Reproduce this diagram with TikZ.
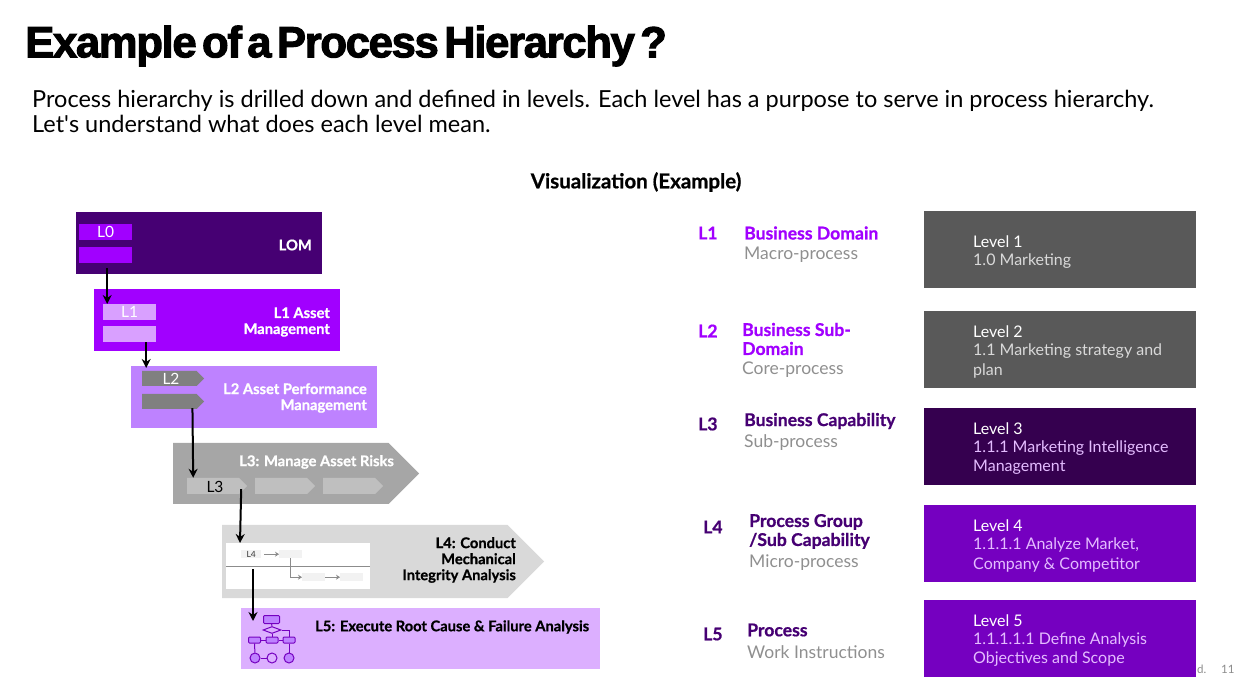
\documentclass[tikz,border=0pt]{standalone}
\usepackage{fontspec}
\setmainfont{Lato}
\newfontfamily\plainfont{Lato}
\newfontfamily\titlefont[LetterSpace=-3,FakeBold=2.5,WordSpace=0.5]{Liberation Sans Bold}
\newfontfamily\heavyfont[FakeBold=0.8]{Lato Bold}
\usetikzlibrary{arrows.meta,positioning,shapes.symbols,shapes.geometric}
\definecolor{lomdark}{HTML}{460073}
\definecolor{brightviolet}{HTML}{A100FF}
\definecolor{softviolet}{HTML}{BE82FF}
\definecolor{paleviolet}{HTML}{DCAFFF}
\definecolor{chipviolet}{HTML}{D9A0FF}
\definecolor{deepviolet}{HTML}{7500C0}
\definecolor{inkviolet}{HTML}{35004F}
\definecolor{slate}{HTML}{595959}
\definecolor{subgrey}{HTML}{8F8F8F}

\begin{document}
\begin{tikzpicture}[x=1pt, y=-1pt,
  band/.style={rectangle, inner sep=0pt, anchor=north west},
  chevron/.style={signal, signal to=east, signal pointer angle=90, inner sep=0pt, anchor=west},
  head/.style={font=\fontsize{14.7}{16}\selectfont\heavyfont, text=white, align=right, anchor=east, inner sep=0pt, yshift=-1pt},
  tag/.style={font=\fontsize{15.5}{16}\selectfont, text=white, inner sep=0pt},
  flow/.style={-{Stealth[length=9pt,width=9pt]}, line width=2pt, black},
  thin flow/.style={-{Stealth[length=4pt,width=5pt]}, line width=0.8pt, black!45},
  levelname/.style={font=\fontsize{17.6}{19}\selectfont\heavyfont, inner sep=0pt, anchor=west},
  levelinfo/.style={font=\fontsize{17.5}{19}\selectfont, align=left, inner sep=0pt, anchor=west, yshift=-2pt},
  paneltext/.style={font=\fontsize{16}{19.5}\selectfont, align=left, inner sep=0pt, anchor=west, yshift=-1pt},
  panel/.style={band, minimum width=272pt, minimum height=77pt},
  icon box/.style={rectangle, rounded corners=1pt, draw=deepviolet, fill=softviolet, line width=1pt, inner sep=0pt},
  icon dot/.style={circle, draw=deepviolet, fill=softviolet, line width=1pt, minimum size=10pt, inner sep=0pt},
  icon line/.style={draw=deepviolet, line width=1pt},
]
  \useasboundingbox (0,0) rectangle (1254,692);

  % heading
  \node[anchor=west, inner sep=0pt, font=\fontsize{43.6}{46}\selectfont\titlefont] (title) at (25,46) {Example of a Process Hierarchy ?};
  \node[anchor=north west, inner sep=0pt, align=left, font=\fontsize{23.5}{25}\selectfont] (intro) at (32,90)
    {Process hierarchy is drilled down and defined in levels. Each level has a purpose to serve in process hierarchy.\\
     Let{\plainfont'}s understand what does each level mean.};
  \node[inner sep=0pt, font=\fontsize{20.5}{20}\selectfont\heavyfont] (vis) at (636,182) {Visualization (Example)};

  % left stack
  \node[band, fill=lomdark, minimum width=246pt, minimum height=62pt] (lom) at (76,212) {};
  \node[band, fill=brightviolet, minimum width=53pt, minimum height=16pt] (lzero) at (79,224) {};
  \node[band, fill=brightviolet, minimum width=53pt, minimum height=16pt] (lzerob) at (79,247) {};
  \node[tag] (lzerot) at (lzero.center) {L0};
  \node[head, anchor=east] (lomt) at (312,244) {LOM};

  \node[band, fill=brightviolet, minimum width=246pt, minimum height=62pt] (asset) at (94,289) {};
  \node[band, fill=chipviolet, minimum width=53pt, minimum height=16pt] (lone) at (103,304) {};
  \node[band, fill=chipviolet, minimum width=53pt, minimum height=16pt] (loneb) at (103,326) {};
  \node[tag] (lonet) at (lone.center) {L1};
  \node[head] (assett) at (330,321) {L1 Asset\\Management};

  \node[band, fill=softviolet, minimum width=246pt, minimum height=62pt] (perf) at (131,366) {};
  \node[chevron, fill=black!50, minimum width=62pt, minimum height=15pt] (ltwo) at (142,378.5) {};
  \node[chevron, fill=black!50, minimum width=62pt, minimum height=15pt] (ltwob) at (142,401.5) {};
  \node[tag] (ltwot) at (171,378.5) {L2};
  \node[head] (perft) at (367,397) {L2 Asset Performance\\Management};

  \node[chevron, fill=black!35, minimum width=246pt, minimum height=61pt] (risk) at (173,473.5) {};
  \node[head] (riskt) at (394,461) {L3: Manage Asset Risks};
  \node[chevron, fill=black!25, minimum width=60pt, minimum height=16pt] (lthree) at (187,486) {};
  \node[chevron, fill=black!25, minimum width=60pt, minimum height=16pt] (lthreeb) at (255,486) {};
  \node[chevron, fill=black!25, minimum width=60pt, minimum height=16pt] (lthreec) at (323,486) {};
  \node[tag, text=black] (lthreet) at (215,487) {L3};

  \node[chevron, fill=black!15, minimum width=322pt, minimum height=73pt] (conduct) at (222,561.5) {};
  \node[head, text=black] (conductt) at (516,559) {L4: Conduct\\Mechanical\\Integrity Analysis};
  \node[band, fill=white, minimum width=144pt, minimum height=46pt] (sheet) at (226,543) {};
  \draw[black!45, line width=1pt] (sheet.west) -- (sheet.east);
  \node[band, fill=black!5, minimum width=20pt, minimum height=8pt, font=\fontsize{8.5}{8}\selectfont, text=black!80] (lfour) at (241,550) {L4};
  \node[band, fill=black!5, minimum width=23pt, minimum height=8pt] (sa) at (279,550) {};
  \node[band, fill=black!5, minimum width=23pt, minimum height=8pt] (sb) at (302,573) {};
  \node[band, fill=black!5, minimum width=23pt, minimum height=8pt] (sc) at (340,573) {};
  \draw[thin flow] ([xshift=3pt]lfour.east) -- (sa.west);
  \draw[thin flow] ([xshift=11pt]sa.south west) |- (sb.west);
  \draw[thin flow] (sb.east) -- (sc.west);

  \node[band, fill=paleviolet, minimum width=359pt, minimum height=61pt] (root) at (241,608) {};
  \node[anchor=west, inner sep=0pt, font=\fontsize{14.7}{16}\selectfont\heavyfont, yshift=-1pt] (roott) at (315,626) {L5: Execute Root Cause \& Failure Analysis};

  % flowchart icon
  \node[icon box, minimum width=16pt, minimum height=8pt] (ia) at (271.5,619.5) {};
  \node[diamond, aspect=2.6, draw=deepviolet, fill=none, line width=1pt, minimum width=18pt, minimum height=7pt, inner sep=0pt] (ib) at (272,630) {};
  \node[icon box, minimum width=12pt, minimum height=6pt] (ic) at (254.5,640) {};
  \node[icon box, minimum width=12pt, minimum height=6pt] (id) at (272,640) {};
  \node[icon box, minimum width=12pt, minimum height=6pt] (ie) at (289,640) {};
  \node[icon dot] (ig) at (255,658) {};
  \node[icon dot, fill=none] (ih) at (272,658) {};
  \node[icon dot] (ii) at (289,658) {};
  \draw[icon line] (ia) -- (ib);
  \draw[icon line] (ib) -- (id);
  \draw[icon line] (ib.east) -| (ie.north);
  \draw[icon line] (ic) -- (id);
  \draw[icon line] (id) -- (ie);
  \draw[icon line] (ic) -- (ig);
  \draw[icon line] (ie) -- (ii);
  \draw[icon line] (ig) -- (ih);

  % drill down arrows
  \draw[flow] ([xshift=1.5pt,yshift=-5pt]lzerob.south) -- ([xshift=-22.5pt]lone.north);
  \draw[flow] ([xshift=16.5pt]loneb.south) -- ([xshift=-108pt,yshift=-2pt]perf.north);
  \draw[flow] ([xshift=23pt,yshift=1pt]ltwob.south) -- ([xshift=-20pt]lthree.north);
  \draw[flow] ([xshift=28pt,yshift=5pt]lthree.south) -- ([xshift=14pt]sheet.north west);
  \draw[flow] ([xshift=27pt,yshift=-3pt]sheet.west) -- ([xshift=12pt,yshift=-6pt]root.north west |- ia.north);

  % right column
  \node[levelname, text=brightviolet] (nl1) at (698,233) {L1};
  \node[levelname, text=brightviolet] (nb1) at (744,233) {Business Domain};
  \node[levelinfo, text=subgrey] (ni1) at (744,253) {Macro-process};
  \node[levelname, text=brightviolet] (nl2) at (698,331) {L2};
  \node[levelname, text=brightviolet, align=left] (nb2) at (742,339) {Business Sub-\\Domain};
  \node[levelinfo, text=subgrey] (ni2) at (742,368) {Core-process};
  \node[levelname, text=lomdark] (nl3) at (698,424) {L3};
  \node[levelname, text=lomdark] (nb3) at (744,421) {Business Capability};
  \node[levelinfo, text=subgrey] (ni3) at (744,441) {Sub-process};
  \node[levelname, text=lomdark] (nl4) at (703,527) {L4};
  \node[levelname, text=lomdark, align=left] (nb4) at (749,531.5) {Process Group\\/Sub Capability};
  \node[levelinfo, text=subgrey] (ni4) at (749,561) {Micro-process};
  \node[levelname, text=lomdark] (nl5) at (703,634) {L5};
  \node[levelname, text=lomdark] (nb5) at (747,630) {Process};
  \node[levelinfo, text=subgrey] (ni5) at (747,650) {Work Instructions};

  \node[panel, fill=slate] (p1) at (924,211) {};
  \node[panel, fill=slate] (p2) at (924,311) {};
  \node[panel, fill=inkviolet] (p3) at (924,408) {};
  \node[panel, fill=deepviolet] (p4) at (924,505) {};
  \node[panel, fill=deepviolet] (p5) at (924,600) {};

  \node[paneltext, text=white] (t1) at (973,241) {Level 1};
  \node[paneltext, text=black!15] (s1) at (973,260) {1.0 Marketing};
  \node[paneltext, text=white] (t2) at (973,331) {Level 2};
  \node[paneltext, text=black!15] (s2) at (973,360) {1.1 Marketing strategy and\\plan};
  \node[paneltext, text=white] (t3) at (973,428) {Level 3};
  \node[paneltext, text=chipviolet!70!white] (s3) at (973,456.5) {1.1.1 Marketing Intelligence\\Management};
  \node[paneltext, text=white] (t4) at (973,525) {Level 4};
  \node[paneltext, text=chipviolet!70!white] (s4) at (973,554) {1.1.1.1 Analyze Market,\\Company \& Competitor};
  \node[paneltext, text=white] (t5) at (973,620) {Level 5};
  \node[paneltext, text=chipviolet!70!white] (s5) at (973,648.5) {1.1.1.1.1 Define Analysis\\Objectives and Scope};

  \node[anchor=west, inner sep=0pt, font=\fontsize{11.5}{12}\selectfont, text=black!45] (foot) at (1197,669) {d.};
  \node[anchor=west, inner sep=0pt, font=\fontsize{11.5}{12}\selectfont, text=black!45] (page) at (1221,669) {11};
\end{tikzpicture}
\end{document}
